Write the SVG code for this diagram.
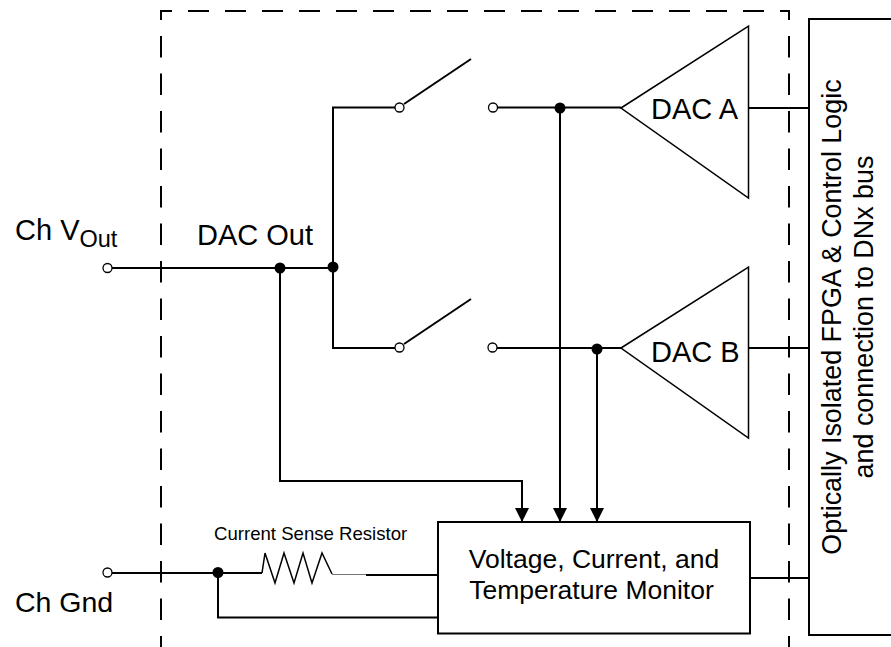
<svg xmlns="http://www.w3.org/2000/svg" width="891" height="647" viewBox="0 0 891 647">
<style>
text{font-family:"Liberation Sans",Arial,sans-serif;fill:#000}
.w{fill:none;stroke:#000;stroke-width:2}
.t{fill:#fff;stroke:#000;stroke-width:1.5}
.frame{fill:none;stroke:#000;stroke-width:2;stroke-dasharray:21.500 16;stroke-dashoffset:11.500}
.box{fill:#fff;stroke:#000;stroke-width:2}
.dot{fill:#000}
.open{fill:#fff;stroke:#000;stroke-width:1.3}
.l{font-size:29px}
.m{font-size:26.500px}
.v{font-size:26.900px}
</style>
<defs><marker id="ah" markerUnits="userSpaceOnUse" markerWidth="16" markerHeight="14" refX="15" refY="7.5" orient="auto" viewBox="0 0 15 15"><path d="M0 0L15 7.5L0 15Z" fill="#000"/></marker></defs>
<g id="boundary">
<path class="frame" style="stroke-dasharray:21 16;stroke-dashoffset:11" d="M790 11H160"/>
<path class="frame" d="M161 10V647"/>
<path class="frame" d="M789 10V647"/>
</g>
<g id="connectors">
<path class="w" d="M112 268H333"/>
<path class="w" d="M333 268V107.500H395"/>
<path class="w" d="M333 268V348H395"/>
<path class="w" d="M404 104L471 59"/>
<path class="w" d="M404 344L471 299"/>
<path class="w" d="M497 107.500H621"/>
<path class="w" d="M497 348H621"/>
<path class="w" d="M749 108H809"/>
<path class="w" d="M749 348H809"/>
<path class="w" d="M748 578H809"/>
<path class="w" marker-end="url(#ah)" d="M280 268V481H522V522"/>
<path class="w" marker-end="url(#ah)" d="M560 108V522"/>
<path class="w" marker-end="url(#ah)" d="M597 349V522"/>
<path class="w" d="M112 573H262"/>
<path class="w" d="M218 573V617.500H438"/>
<path fill="none" stroke="#000" stroke-width="1.500" d="M262 573L265 553L275 583L284 553L294 583L303 553L312 583L322 553L332 574"/>
<path fill="none" stroke="#777" stroke-width="1" d="M332 574.500H366"/>
<path class="w" d="M366 575H438"/>
<circle class="dot" cx="280" cy="268" r="5.500"/>
<circle class="dot" cx="333" cy="267" r="5.500"/>
<circle class="dot" cx="560" cy="108" r="5.500"/>
<circle class="dot" cx="597" cy="349" r="5.500"/>
<circle class="dot" cx="218" cy="572.500" r="5.500"/>
<circle class="open" cx="107.500" cy="268" r="4.500"/>
<circle class="open" cx="107.500" cy="572.500" r="4.500"/>
<circle class="open" cx="399.500" cy="107.500" r="4.500"/>
<circle class="open" cx="493" cy="107.500" r="4.500"/>
<circle class="open" cx="399.500" cy="347.500" r="4.500"/>
<circle class="open" cx="492.500" cy="347.500" r="4.500"/>
</g>
<g id="ch-vout"><text class="l" x="15" y="240">Ch V<tspan font-size="23.500" dy="7">Out</tspan></text></g>
<g id="dac-out"><text class="l" x="197" y="245">DAC Out</text></g>
<g id="ch-gnd"><text class="l" x="15" y="612" font-size="28.500" style="font-size:28.500px">Ch Gnd</text></g>
<g id="sense-resistor"><text x="214" y="540" font-size="18.600">Current Sense Resistor</text></g>
<g id="dac-a"><path class="t" d="M621 108L748.500 26V198Z"/><text class="l" x="651" y="119">DAC A</text></g>
<g id="dac-b"><path class="t" d="M621 348L748.500 267V438Z"/><text class="l" x="651" y="362">DAC B</text></g>
<g id="monitor"><rect class="box" x="438" y="522" width="312" height="111.500"/>
<text class="m" x="594" y="568" text-anchor="middle">Voltage, Current, and</text>
<text class="m" x="591.500" y="599" text-anchor="middle">Temperature Monitor</text></g>
<g id="fpga"><path class="box" d="M893 19H809V635H893"/>
<text class="v" text-anchor="middle" transform="translate(841 317) rotate(-90)">Optically Isolated FPGA &amp; Control Logic</text>
<text class="v" text-anchor="middle" transform="translate(873 317) rotate(-90)">and connection to DNx bus</text></g>
</svg>
